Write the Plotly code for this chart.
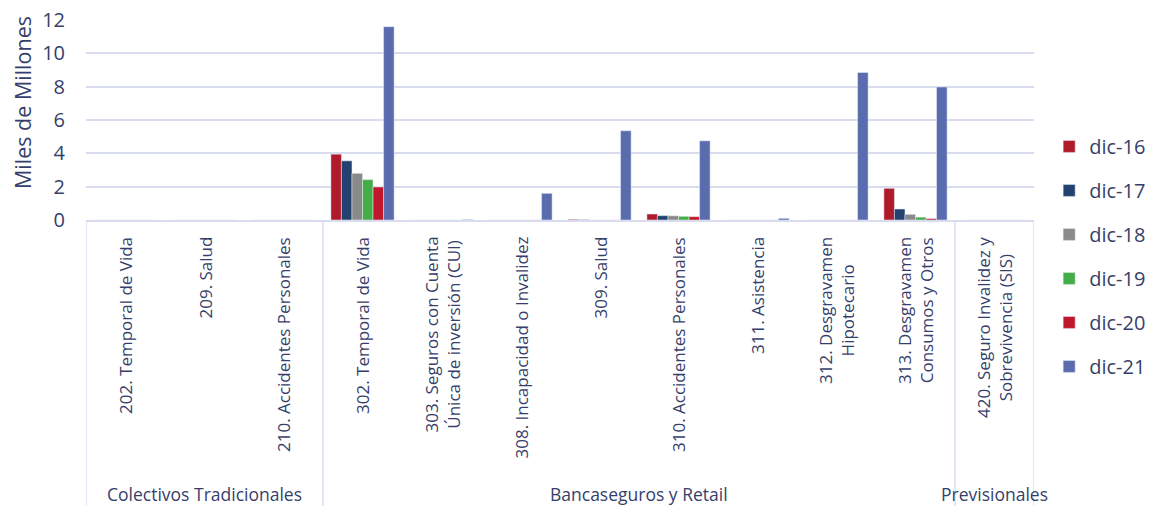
import plotly.graph_objects as go

categories = [
    "202. Temporal de Vida",
    "209. Salud",
    "210. Accidentes Personales",
    "302. Temporal de Vida",
    "303. Seguros con Cuenta<br>Única de inversión (CUI)",
    "308. Incapacidad o Invalidez",
    "309. Salud",
    "310. Accidentes Personales",
    "311. Asistencia",
    "312. Desgravamen<br>Hipotecario",
    "313. Desgravamen<br>Consumos y Otros",
    "420. Seguro Invalidez y<br>Sobrevivencia (SIS)",
]
groups = ["Colectivos Tradicionales", "Bancaseguros y Retail", "Previsionales"]
group_sizes = [3, 8, 1]

series_names = ["dic-16", "dic-17", "dic-18", "dic-19", "dic-20", "dic-21"]
dic16 = [0, 0, 0, 3.95, 0, 0, 0.04, 0.36, 0, 0, 1.90, 0]
dic17 = [0, 0, 0, 3.55, 0, 0, 0.02, 0.26, 0, 0, 0.66, 0]
dic18 = [0, 0, 0, 2.80, 0, 0, 0, 0.25, 0, 0, 0.34, 0]
dic19 = [0, 0, 0, 2.42, 0, 0, 0, 0.22, 0, 0, 0.17, 0]
dic20 = [0, 0, 0, 1.98, 0, 0, 0, 0.20, 0, 0, 0.08, 0]
dic21 = [0, 0, 0, 11.60, 0.03, 1.60, 5.35, 4.75, 0.10, 8.85, 7.98, 0]
series_values = [dic16, dic17, dic18, dic19, dic20, dic21]
colors = ["#B01B2C", "#24426F", "#8A8A8A", "#45AD47", "#C1172A", "#5A6CAE"]

TXT = "#363F6B"
GRID = "#D9DCEE"
FONT = "Open Sans"

fig = go.Figure()
for name, vals, col in zip(series_names, series_values, colors):
    fig.add_trace(go.Bar(x=categories, y=vals, name=name, marker_color=col,
                         legendgroup=name))

# category labels (rotated) below the axis
for c in categories:
    fig.add_annotation(x=c, xref="x", y=-0.075, yref="paper", text=c,
                       textangle=-90, xanchor="center", yanchor="top",
                       showarrow=False, align="center",
                       font=dict(family=FONT, size=17, color=TXT))

# group labels and dividers
start = 0
bounds = [-0.5]
for g, n in zip(groups, group_sizes):
    center = start + (n - 1) / 2
    fig.add_annotation(x=center, xref="x", y=-1.37, yref="paper", text=g,
                       xanchor="center", yanchor="middle", showarrow=False,
                       font=dict(family=FONT, size=17.5, color=TXT))
    start += n
    bounds.append(start - 0.5)
for b in bounds:
    fig.add_shape(type="line", xref="x", yref="paper", x0=b, x1=b, y0=0,
                  y1=-1.43, line=dict(color=GRID, width=1.5))

fig.add_annotation(x=-0.0675, xref="paper", y=0.585, yref="paper",
                   text="Miles de Millones", textangle=-90, showarrow=False,
                   xanchor="center", yanchor="middle",
                   font=dict(family=FONT, size=21.5, color=TXT))

fig.update_layout(
    width=1157, height=506,
    margin=dict(l=86, r=123, t=20, b=286, autoexpand=False),
    paper_bgcolor="white", plot_bgcolor="white",
    barmode="group", bargap=0.2, bargroupgap=0,
    font=dict(family=FONT, color=TXT),
    legend=dict(x=1.016, xanchor="left", y=-0.182, yanchor="middle",
                font=dict(family=FONT, size=20, color=TXT),
                tracegroupgap=15, itemwidth=30, maxheight=450),
    xaxis=dict(type="category", showticklabels=False, showgrid=False,
               showline=True, linecolor=GRID, linewidth=2, automargin=False,
               range=[-0.5, len(categories) - 0.5], ticks=""),
    yaxis=dict(range=[0, 12], tickvals=[0, 2, 4, 6, 8, 10, 12],
               showgrid=True, gridcolor=GRID,
               gridwidth=2, zeroline=False, showline=False, automargin=False,
               ticklabelstandoff=20,
               tickfont=dict(family=FONT, size=20, color=TXT)),
)

# remove the default 8px page margin so the figure fills the window exactly
fig.write_html("out.html", config={"displayModeBar": False},
               post_script="document.body.style.margin='0px';")
